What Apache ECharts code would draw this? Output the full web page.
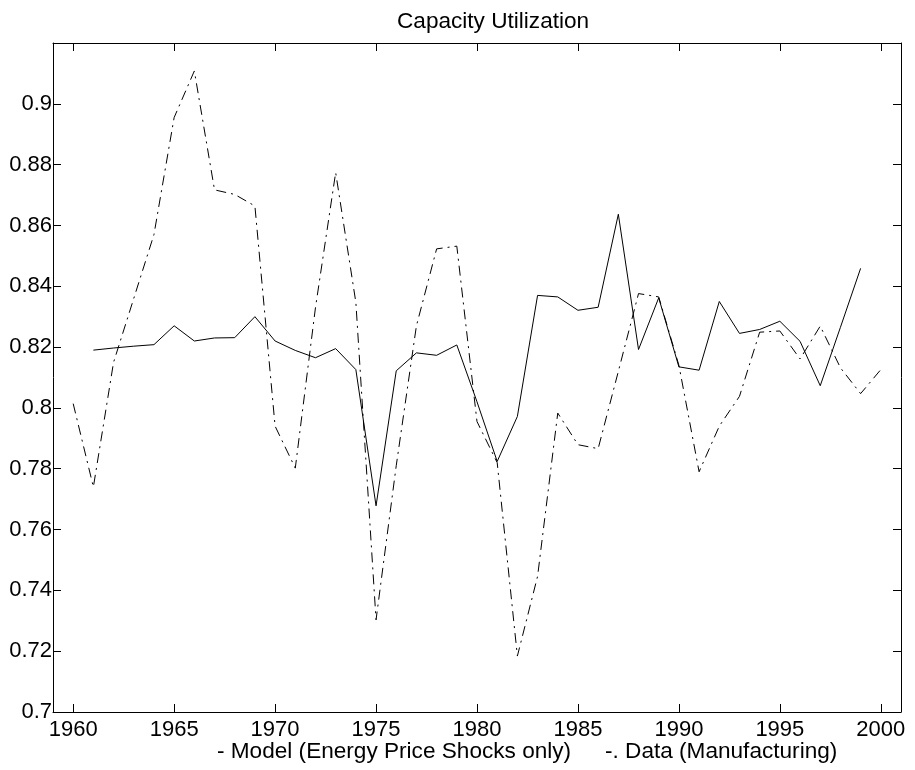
<!DOCTYPE html>
<html>
<head>
<meta charset="utf-8" />
<title>Capacity Utilization</title>
<script src="https://cdn.jsdelivr.net/npm/echarts@6/dist/echarts.min.js"></script>
<style>
  html, body { margin: 0; padding: 0; background: #fff; }
  #chart { width: 915px; height: 770px; }
</style>
</head>
<body>
<div id="chart"></div>
<script>
// years on the x axis
const years = [];
for (let y = 1960; y <= 2000; y++) years.push(y);

// solid line: model (energy price shocks only), 1961-1999
const modelValues = [
  null, 0.819, 0.8197, 0.8203, 0.8208, 0.827, 0.822, 0.823, 0.8231, 0.830,
  0.822, 0.8189, 0.8165, 0.8195, 0.8126, 0.7678, 0.8122, 0.8181, 0.8173, 0.8207,
  0.802, 0.7824, 0.7972, 0.837, 0.8365, 0.8321, 0.8331, 0.8637, 0.8192, 0.8362,
  0.8135, 0.8124, 0.835, 0.8245, 0.8258, 0.8285, 0.8219, 0.8073, 0.8265, 0.8459,
  null
];

// dash-dot line: data (manufacturing), 1960-2000
const dataValues = [
  0.8014, 0.774, 0.815, 0.836, 0.857, 0.8955, 0.9108, 0.8717, 0.8702, 0.8664,
  0.794, 0.7802, 0.833, 0.8774, 0.8347, 0.7303, 0.781, 0.827, 0.8523, 0.8532,
  0.7955, 0.782, 0.7184, 0.7446, 0.7983, 0.7879, 0.7866, 0.812, 0.8376, 0.8365,
  0.814, 0.779, 0.794, 0.8038, 0.8249, 0.8253, 0.8161, 0.8269, 0.8132, 0.8047,
  0.8126
];

const xTicks = [1960, 1965, 1970, 1975, 1980, 1985, 1990, 1995, 2000];
const yTicks = [0.7, 0.72, 0.74, 0.76, 0.78, 0.8, 0.82, 0.84, 0.86, 0.88, 0.9];

const titleText = "Capacity Utilization";
const modelLabel = "- Model (Energy Price Shocks only)";
const dataLabel = "-. Data (Manufacturing)";

const FONT = "'Liberation Sans', Arial, Helvetica, sans-serif";

function toPairs(values) {
  return years.map((y, i) => [y, values[i]]).filter((p) => p[1] !== null);
}

const chart = echarts.init(document.getElementById("chart"));

const axisLine = { show: true, onZero: false, lineStyle: { color: "#000", width: 1 } };

chart.setOption({
  animation: false,
  backgroundColor: "#fff",
  textStyle: { fontFamily: FONT },
  grid: { left: 53, right: 14, top: 43, bottom: 58, containLabel: false },
  graphic: [
    {
      type: "text",
      left: 397,
      top: 10,
      style: { text: titleText, font: "22.6px " + FONT, fill: "#000" },
    },
    {
      type: "text",
      left: 217,
      top: 740,
      style: { text: modelLabel, font: "22.6px " + FONT, fill: "#000" },
    },
    {
      type: "text",
      left: 605,
      top: 740,
      style: { text: dataLabel, font: "22.6px " + FONT, fill: "#000" },
    },
  ],
  xAxis: [
    {
      type: "value",
      position: "bottom",
      min: 1959,
      max: 2001,
      axisLine: axisLine,
      axisTick: { show: true, inside: true, length: 8, customValues: xTicks, lineStyle: { color: "#000" } },
      axisLabel: {
        customValues: xTicks,
        margin: 7,
        color: "#000",
        fontSize: 22,
        fontFamily: FONT,
        formatter: (v) => String(v),
      },
      splitLine: { show: false },
    },
    {
      type: "value",
      position: "top",
      min: 1959,
      max: 2001,
      axisLine: axisLine,
      axisTick: { show: true, inside: true, length: 8, customValues: xTicks, lineStyle: { color: "#000" } },
      axisLabel: { show: false },
      splitLine: { show: false },
    },
  ],
  yAxis: [
    {
      type: "value",
      position: "left",
      min: 0.7,
      max: 0.92,
      axisLine: axisLine,
      axisTick: { show: true, inside: true, length: 8, customValues: yTicks, lineStyle: { color: "#000" } },
      axisLabel: {
        customValues: yTicks,
        margin: 1,
        color: "#000",
        fontSize: 22,
        fontFamily: FONT,
      },
      splitLine: { show: false },
    },
    {
      type: "value",
      position: "right",
      min: 0.7,
      max: 0.92,
      axisLine: axisLine,
      axisTick: { show: true, inside: true, length: 8, customValues: yTicks, lineStyle: { color: "#000" } },
      axisLabel: { show: false },
      splitLine: { show: false },
    },
  ],
  series: [
    {
      name: "Model",
      type: "line",
      xAxisIndex: 0,
      yAxisIndex: 0,
      data: toPairs(modelValues),
      showSymbol: false,
      symbol: "none",
      lineStyle: { color: "#000", width: 1 },
    },
    {
      name: "Data",
      type: "line",
      xAxisIndex: 0,
      yAxisIndex: 0,
      data: toPairs(dataValues),
      showSymbol: false,
      symbol: "none",
      lineStyle: { color: "#000", width: 1, type: [10, 5, 2, 5] },
    },
  ],
});
</script>
</body>
</html>
